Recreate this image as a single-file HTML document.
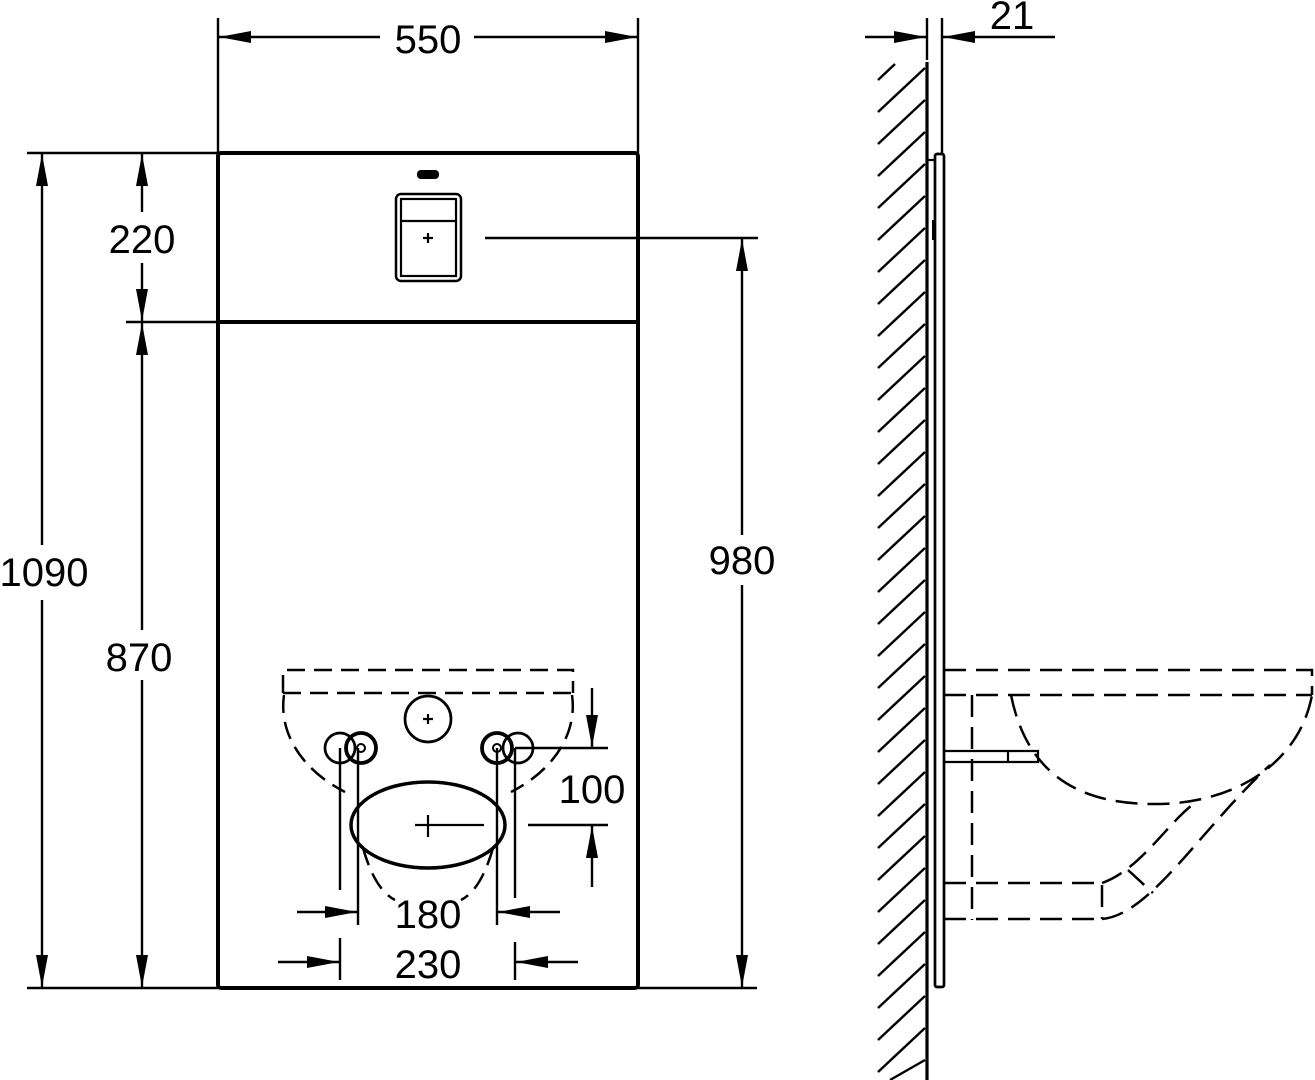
<!DOCTYPE html>
<html><head><meta charset="utf-8"><style>html,body{margin:0;padding:0;background:#fff}svg{display:block}text{font-family:"Liberation Sans",sans-serif;font-size:40px;fill:#000}</style></head><body>
<svg width="1315" height="1080" viewBox="0 0 1315 1080" xmlns="http://www.w3.org/2000/svg">
<defs>
<marker id="a" markerWidth="32" markerHeight="12" refX="32" refY="6" orient="auto" markerUnits="userSpaceOnUse"><path d="M0,0 L32,6 L0,12 Z" fill="#000"/></marker>
</defs>
<g stroke="#000" fill="none" stroke-width="2.4">
<line x1="218" y1="18" x2="218" y2="153"/><line x1="638" y1="18" x2="638" y2="153"/>
<line x1="380" y1="37" x2="219" y2="37" marker-end="url(#a)"/>
<line x1="474" y1="37" x2="637" y2="37" marker-end="url(#a)"/>
<line x1="27" y1="153" x2="218" y2="153"/>
<line x1="27" y1="988" x2="218" y2="988"/>
<line x1="126" y1="322" x2="218" y2="322"/>
<line x1="42" y1="545" x2="42" y2="154" marker-end="url(#a)"/>
<line x1="42" y1="600" x2="42" y2="987" marker-end="url(#a)"/>
<line x1="142" y1="212" x2="142" y2="154" marker-end="url(#a)"/>
<line x1="142" y1="263" x2="142" y2="321" marker-end="url(#a)"/>
<line x1="142" y1="630" x2="142" y2="323" marker-end="url(#a)"/>
<line x1="142" y1="680" x2="142" y2="987" marker-end="url(#a)"/>
<line x1="485" y1="238" x2="758" y2="238"/>
<line x1="638" y1="988" x2="757" y2="988"/>
<line x1="742" y1="535" x2="742" y2="239" marker-end="url(#a)"/>
<line x1="742" y1="585" x2="742" y2="987" marker-end="url(#a)"/>
<line x1="515" y1="748" x2="608" y2="748"/>
<line x1="528" y1="825" x2="608" y2="825"/>
<line x1="592" y1="688" x2="592" y2="747" marker-end="url(#a)"/>
<line x1="592" y1="887" x2="592" y2="826" marker-end="url(#a)"/>
<line x1="358" y1="748" x2="358" y2="925"/><line x1="497" y1="748" x2="497" y2="925"/>
<line x1="340" y1="748" x2="340" y2="890"/><line x1="515" y1="748" x2="515" y2="898"/>
<line x1="340" y1="938" x2="340" y2="980"/><line x1="515" y1="942" x2="515" y2="980"/>
<line x1="297" y1="912" x2="357" y2="912" marker-end="url(#a)"/>
<line x1="560" y1="912" x2="498" y2="912" marker-end="url(#a)"/>
<line x1="278" y1="962" x2="339" y2="962" marker-end="url(#a)"/>
<line x1="578" y1="962" x2="516" y2="962" marker-end="url(#a)"/>
</g>
<rect x="218" y="153" width="420" height="835" rx="3" fill="none" stroke="#000" stroke-width="4"/>
<line x1="218" y1="322" x2="638" y2="322" stroke="#000" stroke-width="4"/>
<rect x="417" y="170" width="22" height="9" rx="4" fill="#000"/>
<rect x="396" y="194" width="65" height="87" rx="5" fill="none" stroke="#000" stroke-width="2.5"/>
<rect x="401" y="199" width="55" height="77" fill="none" stroke="#000" stroke-width="2.2"/>
<line x1="401" y1="221" x2="456" y2="221" stroke="#000" stroke-width="2.2"/>
<path d="M423,238 h10 M428,233 v10" stroke="#000" stroke-width="2.2"/>
<g fill="none" stroke="#000" stroke-width="2.5" stroke-dasharray="18,9">
<path d="M283,693 V670 H573 V693"/>
<line x1="283" y1="693" x2="573" y2="693"/>
<path d="M284,695 A145,105 0 0 0 345,792"/>
<path d="M572,695 A145,105 0 0 1 511,792"/>
<path d="M363,848 Q375,890 395,900"/>
<path d="M493,848 Q481,890 461,900"/>
</g>
<g fill="none" stroke="#000">
<ellipse cx="428" cy="825" rx="77" ry="43" stroke-width="3.5"/>
<circle cx="428" cy="719" r="23" stroke-width="2.7"/>
<circle cx="340" cy="748" r="15" stroke-width="2.7"/>
<circle cx="361" cy="748" r="15" stroke-width="3.8"/>
<circle cx="361" cy="748" r="4" stroke-width="2"/>
<circle cx="497" cy="748" r="15" stroke-width="3.8"/>
<circle cx="497" cy="748" r="4" stroke-width="2"/>
<circle cx="518" cy="748" r="15" stroke-width="2.7"/>
<path d="M415,825 H484 M428,815 V837 M423,719 h10 M428,714 v10" stroke-width="2.2"/>
</g>
<g stroke="#000" fill="none" stroke-width="2.4">
<line x1="927" y1="18" x2="927" y2="60"/><line x1="942" y1="18" x2="942" y2="155"/>
<line x1="865" y1="37" x2="926" y2="37" marker-end="url(#a)"/>
<line x1="1055" y1="37" x2="943" y2="37" marker-end="url(#a)"/>
<line x1="878" y1="80" x2="895" y2="64"/>
</g>
<g stroke="#000" stroke-width="2.4">
<line x1="878" y1="112" x2="925" y2="68"/><line x1="878" y1="144" x2="925" y2="100"/><line x1="878" y1="176" x2="925" y2="132"/><line x1="878" y1="208" x2="925" y2="164"/><line x1="878" y1="240" x2="925" y2="196"/><line x1="878" y1="272" x2="925" y2="228"/><line x1="878" y1="304" x2="925" y2="260"/><line x1="878" y1="336" x2="925" y2="292"/><line x1="878" y1="368" x2="925" y2="324"/><line x1="878" y1="400" x2="925" y2="356"/><line x1="878" y1="432" x2="925" y2="388"/><line x1="878" y1="464" x2="925" y2="420"/><line x1="878" y1="496" x2="925" y2="452"/><line x1="878" y1="528" x2="925" y2="484"/><line x1="878" y1="560" x2="925" y2="516"/><line x1="878" y1="592" x2="925" y2="548"/><line x1="878" y1="624" x2="925" y2="580"/><line x1="878" y1="656" x2="925" y2="612"/><line x1="878" y1="688" x2="925" y2="644"/><line x1="878" y1="720" x2="925" y2="676"/><line x1="878" y1="752" x2="925" y2="708"/><line x1="878" y1="784" x2="925" y2="740"/><line x1="878" y1="816" x2="925" y2="772"/><line x1="878" y1="848" x2="925" y2="804"/><line x1="878" y1="880" x2="925" y2="836"/><line x1="878" y1="912" x2="925" y2="868"/><line x1="878" y1="944" x2="925" y2="900"/><line x1="878" y1="976" x2="925" y2="932"/><line x1="878" y1="1008" x2="925" y2="964"/><line x1="878" y1="1040" x2="925" y2="996"/><line x1="878" y1="1072" x2="925" y2="1028"/><line x1="890" y1="1080" x2="925" y2="1060"/>
</g>
<line x1="927" y1="62" x2="927" y2="1080" stroke="#000" stroke-width="3.2"/>
<rect x="935" y="154" width="9" height="833" rx="2" fill="none" stroke="#000" stroke-width="2.7"/>
<line x1="927" y1="160" x2="935" y2="160" stroke="#000" stroke-width="2.2"/>
<rect x="932" y="220" width="3" height="20" fill="#000"/>
<path d="M944,751 H1038 V762 H944 M1008,751 V762" fill="none" stroke="#000" stroke-width="2.2"/>
<g fill="none" stroke="#000" stroke-width="2.5" stroke-dasharray="22,10">
<path d="M944,670 H1312 V695"/>
<line x1="944" y1="695" x2="1312" y2="695"/>
<line x1="972" y1="695" x2="972" y2="920"/>
<path d="M1011,695 C1030,790 1100,805 1160,804 C1240,802 1300,760 1312,695"/>
<path d="M944,883 H1102 V919 M944,919 H1102"/>
<path d="M1102,883 C1140,870 1170,820 1195,803"/>
<path d="M1102,919 C1150,915 1200,830 1270,765"/>
<line x1="1128" y1="870" x2="1153" y2="893"/>
</g>
<rect x="0" y="548" width="92" height="48" fill="#fff"/>
<text x="428" y="53" text-anchor="middle">550</text>
<text x="1012" y="29" text-anchor="middle">21</text>
<text x="142" y="253" text-anchor="middle">220</text>
<text x="139" y="671" text-anchor="middle">870</text>
<text x="44" y="586" text-anchor="middle">1090</text>
<text x="742" y="574" text-anchor="middle">980</text>
<text x="592" y="803" text-anchor="middle">100</text>
<text x="428" y="928" text-anchor="middle">180</text>
<text x="428" y="978" text-anchor="middle">230</text>
</svg>
</body></html>
